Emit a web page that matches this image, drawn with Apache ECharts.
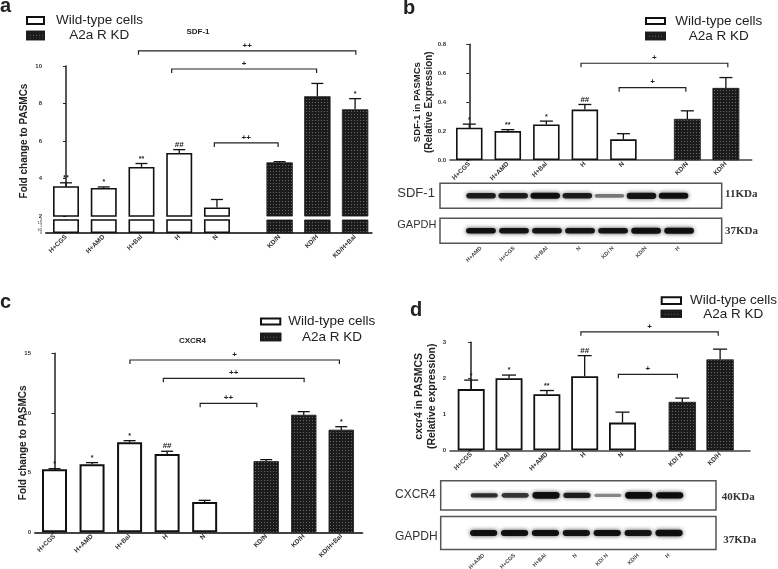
<!DOCTYPE html>
<html><head><meta charset="utf-8">
<script src="https://cdn.jsdelivr.net/npm/echarts@6/dist/echarts.min.js"></script>
<style>html,body{margin:0;padding:0;background:#fff}#c{width:778px;height:569px}</style>
</head><body><div id="c"></div>
<script>
// ---------- Panel a : SDF-1 fold change ----------
const aCats  = ['H+CGS','H+AMD','H+Bal','H','N','KD/N','KD/H','KD/H+Bal'];
const aPos   = [0,1,2,3,4,5.66,6.66,7.66];
const aMean  = [3.59,3.50,4.62,5.36,2.46,4.85,8.38,7.68];
const aSem   = [0.18,0.05,0.18,0.18,0.42,0.05,0.69,0.58];
const aStars = ['**','*','**','##','','','','*'];
const aBrackets = [[1.92,7.68,10.81],[2.80,6.64,9.84],[3.93,5.62,5.90]];
const aBracketLabels = ['++','+','++'];

// ---------- Panel b : SDF-1 relative expression ----------
const bCats  = ['H+CGS','H+AMD','H+Bal','H','N','KD/N','KD/H'];
const bPos   = [0,1,2,3,4,5.66,6.66];
const bMean  = [0.223,0.200,0.246,0.349,0.143,0.283,0.497];
const bSem   = [0.025,0.010,0.023,0.035,0.039,0.057,0.073];
const bStars = ['*','**','*','##','','',''];
const bBrackets = [[2.90,6.71,0.669],[3.89,5.62,0.500]];
const bBracketLabels = ['+','+'];

// ---------- Panel c : CXCR4 fold change ----------
const cCats  = ['H+CGS','H+AMD','H+Bal','H','N','KD/N','KD/H','KD/H+Bal'];
const cPos   = [0,1,2,3,4,5.64,6.64,7.64];
const cMean  = [5.28,5.70,7.54,6.56,2.54,5.95,9.83,8.58];
const cSem   = [0.05,0.14,0.14,0.23,0.14,0.14,0.28,0.27];
const cStars = ['*','*','*','##','','','','*'];
const cBrackets = [[2.01,7.59,14.44],[2.90,6.65,12.90],[3.88,5.39,10.81]];
const cBracketLabels = ['+','++','++'];

// ---------- Panel d : CXCR4 relative expression ----------
const dCats  = ['H+CGS','H+BAl','H+AMD','H','N','KD/ N','KD/H'];
const dPos   = [0,1,2,3,4,5.58,6.58];
const dMean  = [1.70,2.00,1.56,2.06,0.77,1.34,2.52];
const dSem   = [0.25,0.09,0.10,0.57,0.29,0.11,0.29];
const dStars = ['*','*','**','##','','',''];
const dBrackets = [[2.90,6.53,3.29],[3.89,5.45,2.11]];
const dBracketLabels = ['+','+'];

// ---------- Western blots (band intensity / thickness per lane) ----------
const lanes = [0,1,2,3,4,5,6];
const bLaneLabels = ['H+AMD','H+CGS','H+BAl','N','KD/ N','KD/N','H'];
const dLaneLabels = ['H+AMD','H+CGS','H+BAl','N','KD/ N','KD/H','H'];
const bSdfBand    = [0.88,0.88,0.95,0.88,0.50,0.92,0.95];
const bSdfThick   = [1.0,1.0,1.1,1.0,0.7,1.15,1.1];
const bGapdhBand  = [0.95,0.93,0.92,0.92,0.92,0.95,0.95];
const bGapdhThick = [1.0,1.0,1.0,1.0,1.0,1.1,1.1];
const dCxcrBand   = [0.80,0.75,0.95,0.88,0.45,0.98,0.98];
const dCxcrThick  = [0.8,0.9,1.2,0.95,0.6,1.25,1.15];
const dGapdhBand  = [0.95,0.95,0.95,0.93,0.95,0.93,0.95];
const dGapdhThick = [1.0,1.0,1.0,1.0,1.0,1.0,1.05];

const nWT = 5;
const FONT = 'Liberation Sans';
const WT_STYLE = {color:'#ffffff', borderColor:'#111', borderWidth:1.6};
const KD_STYLE = {color:'#1b1b1b', borderColor:'#1b1b1b', borderWidth:0.5,
  decal:{symbol:'rect', symbolSize:0.9, color:'rgba(255,255,255,0.38)', dashArrayX:[1,1.5], dashArrayY:[1,1.5], rotation:0}};

function bars(idx, pos, mean, bw, wtStyle) {
  const wt = [], kd = [];
  pos.forEach((p,i) => (i < nWT ? wt : kd).push([p, mean[i]]));
  return [
    {type:'bar', name:'Wild-type cells', xAxisIndex:idx, yAxisIndex:idx, data:wt, barWidth:bw, barGap:'-100%', itemStyle:wtStyle || WT_STYLE, z:2},
    {type:'bar', name:'A2a R KD', xAxisIndex:idx, yAxisIndex:idx, data:kd, barWidth:bw, barGap:'-100%', itemStyle:KD_STYLE, z:2}
  ];
}
function errors(idx, pos, mean, sem, stars, cap) {
  return {type:'custom', xAxisIndex:idx, yAxisIndex:idx, clip:false, z:4,
    data: pos.map((p,i)=>[p, mean[i], mean[i]+sem[i]]),
    renderItem:(params, api)=>{
      const i = params.dataIndex;
      const p0 = api.coord([api.value(0), api.value(1)]);
      const p1 = api.coord([api.value(0), api.value(2)]);
      const ch = [
        {type:'line', shape:{x1:p0[0],y1:p0[1],x2:p1[0],y2:p1[1]}, style:{stroke:'#111',lineWidth:1.3}},
        {type:'line', shape:{x1:p1[0]-cap,y1:p1[1],x2:p1[0]+cap,y2:p1[1]}, style:{stroke:'#111',lineWidth:1.3}}
      ];
      if (stars[i]) ch.push({type:'text', x:p1[0], y:p1[1]-1,
        style:{text:stars[i], fill:'#222', font:'bold '+(stars[i]==='##'?8:7)+'px '+FONT, align:'center', verticalAlign:'bottom'}});
      return {type:'group', children:ch};
    }};
}
function brackets(idx, data, labels) {
  return {type:'custom', xAxisIndex:idx, yAxisIndex:idx, clip:false, z:4, data:data,
    renderItem:(params, api)=>{
      const a = api.coord([api.value(0), api.value(2)]);
      const b = api.coord([api.value(1), api.value(2)]);
      return {type:'group', children:[
        {type:'polyline', shape:{points:[[a[0],a[1]+4],[a[0],a[1]],[b[0],b[1]],[b[0],b[1]+4]]}, style:{stroke:'#222',lineWidth:1.2,fill:null}},
        {type:'text', x:(a[0]+b[0])/2, y:a[1]-5.5, style:{text:labels[params.dataIndex], fill:'#222', font:'bold 8px '+FONT, align:'center', verticalAlign:'middle'}}
      ]};
    }};
}
function blot(idx, band, thick, baseH, widthFrac) {
  return {type:'custom', xAxisIndex:idx, yAxisIndex:idx, clip:true, z:3,
    data: lanes.map((l,i)=>[l, band[i], thick[i]]),
    renderItem:(params, api)=>{
      const c = api.coord([api.value(0), 0.5]);
      const w = api.size([widthFrac, 0])[0];
      const h = baseH * api.value(2);
      const k = api.value(1);
      return {type:'rect', shape:{x:c[0]-w/2, y:c[1]-h/2, width:w, height:h, r:h/2},
        style:{fill:'rgba(10,10,10,'+k+')', shadowBlur:4, shadowColor:'rgba(0,0,0,'+(k*0.8)+')'}};
    }};
}
function xLabelFmt(pos, cats) {
  return v => { const i = pos.findIndex(p => Math.abs(p - v) < 1e-6); return i >= 0 ? cats[i] : ''; };
}

const lineDark = {lineStyle:{color:'#222', width:1.5}};
const yLab = {fontSize:6, fontWeight:'bold', color:'#333', margin:4};
const yTick = {show:true, length:3, lineStyle:{color:'#222', width:1}};
const xLab = (pos,cats)=>({show:true, rotate:45, fontSize:6.5, fontWeight:'bold', color:'#333', margin:3,
  customValues:pos, formatter:xLabelFmt(pos,cats)});

const blotBox = {show:true, borderColor:'#555', borderWidth:1.5, backgroundColor:'#fff'};
const grids = [
  {left:46, top:66, width:325.7, height:150},      // 0 a top
  {left:46, top:220, width:325.7, height:13},      // 1 a bottom
  {left:450, top:44.3, width:301.7, height:115.7}, // 2 b
  {left:35, top:353.3, width:327.3, height:179},   // 3 c
  {left:450, top:342.3, width:300, height:108},    // 4 d
  Object.assign({left:440, top:183.3, width:281.7, height:25}, blotBox),     // 5 b SDF-1 blot
  Object.assign({left:440, top:218.3, width:281.7, height:25}, blotBox),     // 6 b GAPDH blot
  Object.assign({left:440.7, top:480.7, width:275.3, height:29.3}, blotBox), // 7 d CXCR4 blot
  Object.assign({left:440.7, top:516.5, width:275.3, height:33}, blotBox)    // 8 d GAPDH blot
].map(g => Object.assign({outerBoundsMode:'none', containLabel:false}, g));

const hidden = {axisLine:{show:false}, axisTick:{show:false}, axisLabel:{show:false}, splitLine:{show:false}};
const xAxes = [
  Object.assign({type:'value', gridIndex:0, min:-0.53, max:8.1}, hidden),
  {type:'value', gridIndex:1, min:-0.53, max:8.1, splitLine:{show:false}, axisTick:{show:false},
    axisLine:{lineStyle:{color:'#444', width:2}}, axisLabel:xLab(aPos,aCats)},
  {type:'value', gridIndex:2, min:-0.5, max:7.33, splitLine:{show:false}, axisTick:{show:false},
    axisLine:{lineStyle:{color:'#444', width:1.5}}, axisLabel:xLab(bPos,bCats)},
  {type:'value', gridIndex:3, min:-0.52, max:8.2, splitLine:{show:false}, axisTick:{show:false},
    axisLine:{lineStyle:{color:'#444', width:2}}, axisLabel:xLab(cPos,cCats)},
  {type:'value', gridIndex:4, min:-0.56, max:7.37, splitLine:{show:false}, axisTick:{show:false},
    axisLine:{lineStyle:{color:'#444', width:1.5}}, axisLabel:xLab(dPos,dCats)},
  Object.assign({type:'value', gridIndex:5, min:-1.28, max:7.5}, hidden),
  {type:'value', gridIndex:6, min:-1.24, max:7.29, axisLine:{show:false}, axisTick:{show:false}, splitLine:{show:false},
    axisLabel:{show:true, rotate:45, fontSize:5.5, fontWeight:'bold', color:'#444', margin:4, customValues:lanes, formatter:xLabelFmt(lanes,bLaneLabels)}},
  Object.assign({type:'value', gridIndex:7, min:-1.41, max:7.5}, hidden),
  {type:'value', gridIndex:8, min:-1.39, max:7.52, axisLine:{show:false}, axisTick:{show:false}, splitLine:{show:false},
    axisLabel:{show:true, rotate:45, fontSize:5.5, fontWeight:'bold', color:'#444', margin:5, customValues:lanes, formatter:xLabelFmt(lanes,dLaneLabels)}}
];
const yName = {fontSize:10, fontWeight:'bold', color:'#222', fontFamily:FONT};
const yAxes = [
  {type:'value', gridIndex:0, min:2, max:10, interval:2, splitLine:{show:false}, axisLine:lineDark, axisTick:yTick, axisLabel:yLab,
    name:'Fold change to PASMCs', nameLocation:'middle', nameGap:17, nameMoveOverlap:false, nameTextStyle:yName},
  {type:'value', gridIndex:1, min:0, max:2, interval:0.5, splitLine:{show:false}, axisLine:lineDark,
    axisTick:{show:true, length:3, lineStyle:{color:'#222', width:0.8}}, axisLabel:{fontSize:3, fontWeight:'bold', color:'#444', margin:4}},
  {type:'value', gridIndex:2, min:0, max:0.8, interval:0.2, splitLine:{show:false}, axisLine:lineDark, axisTick:yTick,
    axisLabel:Object.assign({}, yLab, {formatter:v=>v.toFixed(1)}),
    name:'{l1|SDF-1 in PASMCs}\n{l2|(Relative Expression)}', nameLocation:'middle', nameGap:15, nameMoveOverlap:false,
    nameTextStyle:{color:'#222', fontFamily:FONT, rich:{
      l1:{fontSize:9.5, fontWeight:'bold', fontFamily:FONT, lineHeight:12, color:'#222'},
      l2:{fontSize:10, fontWeight:'bold', fontFamily:FONT, lineHeight:12, color:'#222'}}}},
  {type:'value', gridIndex:3, min:0, max:15, interval:5, splitLine:{show:false}, axisLine:lineDark, axisTick:yTick, axisLabel:yLab,
    name:'Fold change to PASMCs', nameLocation:'middle', nameGap:7, nameMoveOverlap:false, nameTextStyle:yName},
  {type:'value', gridIndex:4, min:0, max:3, interval:1, splitLine:{show:false}, axisLine:lineDark, axisTick:yTick, axisLabel:yLab,
    name:'{l1|cxcr4 in PASMCS}\n{l2|(Relative expression)}', nameLocation:'middle', nameGap:11, nameMoveOverlap:false,
    nameTextStyle:{color:'#222', fontFamily:FONT, rich:{
      l1:{fontSize:10.5, fontWeight:'bold', fontFamily:FONT, lineHeight:13, color:'#222'},
      l2:{fontSize:10.5, fontWeight:'bold', fontFamily:FONT, lineHeight:13, color:'#222'}}}},
  Object.assign({type:'value', gridIndex:5, min:0, max:1}, hidden),
  Object.assign({type:'value', gridIndex:6, min:0, max:1}, hidden),
  Object.assign({type:'value', gridIndex:7, min:0, max:1}, hidden),
  Object.assign({type:'value', gridIndex:8, min:0, max:1}, hidden)
];

const series = [].concat(
  bars(0, aPos, aMean, 26), bars(1, aPos, aMean, 26),
  [errors(0, aPos, aMean, aSem, aStars, 6), brackets(0, aBrackets, aBracketLabels)],
  bars(2, bPos, bMean, 26.5),
  [errors(2, bPos, bMean, bSem, bStars, 6.5), brackets(2, bBrackets, bBracketLabels)],
  bars(3, cPos, cMean, 25, {color:'#fff', borderColor:'#111', borderWidth:2}),
  [errors(3, cPos, cMean, cSem, cStars, 6), brackets(3, cBrackets, cBracketLabels)],
  bars(4, dPos, dMean, 27, {color:'#fff', borderColor:'#111', borderWidth:1.8}),
  [errors(4, dPos, dMean, dSem, dStars, 7), brackets(4, dBrackets, dBracketLabels)],
  [blot(5, bSdfBand, bSdfThick, 5.5, 0.92), blot(6, bGapdhBand, bGapdhThick, 5.5, 0.9),
   blot(7, dCxcrBand, dCxcrThick, 5.5, 0.88), blot(8, dGapdhBand, dGapdhThick, 6, 0.88)]
);

function legendItem(name, left, centerY, w, h, textGap) {
  return {left:left, top:centerY-8, padding:0, itemWidth:w, itemHeight:h, selectedMode:false,
    data:[{name:name, icon:'rect'}],
    textStyle:{fontSize:13.5, color:'#222', fontFamily:FONT, lineHeight:16, padding:[0,0,0,textGap-5]}};
}
const legends = [
  legendItem('Wild-type cells', 26, 20.6, 17, 7, 12),
  legendItem('A2a R KD', 26, 35.6, 17, 7.5, 25.3),
  legendItem('Wild-type cells', 645, 21.1, 19, 6, 10.3),
  legendItem('A2a R KD', 645, 36, 19, 6.6, 23.7),
  legendItem('Wild-type cells', 260, 321.5, 19.3, 6, 8),
  legendItem('A2a R KD', 260, 337, 19.3, 6.7, 21.7),
  legendItem('Wild-type cells', 660.7, 300.7, 19.3, 6.7, 9),
  legendItem('A2a R KD', 660.7, 313.8, 19.3, 6, 22.3)
];

function txt(text, x, y, font, opts) {
  return {type:'text', x:x, y:y, style:Object.assign({text:text, font:font, fill:'#222', align:'left', verticalAlign:'middle'}, opts||{})};
}
const graphics = [
  txt('a', 0, 6.8, 'bold 20px '+FONT),
  txt('b', 403, 8.4, 'bold 20px '+FONT),
  txt('c', 0, 302.7, 'bold 20px '+FONT),
  txt('d', 410, 310, 'bold 20px '+FONT),
  txt('SDF-1', 198, 32, 'bold 8px '+FONT, {align:'center'}),
  txt('CXCR4', 192.5, 340.7, 'bold 8px '+FONT, {align:'center'}),
  txt('SDF-1', 397.3, 193.5, '13px '+FONT, {fill:'#333'}),
  txt('GAPDH', 397.3, 224.5, '11px '+FONT, {fill:'#333'}),
  txt('11KDa', 725, 194.5, 'bold 11px Liberation Serif', {fill:'#333'}),
  txt('37KDa', 725, 231, 'bold 11px Liberation Serif', {fill:'#333'}),
  txt('CXCR4', 395, 495, '12px '+FONT, {fill:'#333'}),
  txt('GAPDH', 395, 537, '12px '+FONT, {fill:'#333'}),
  txt('40KDa', 721.7, 496.7, 'bold 11px Liberation Serif', {fill:'#333'}),
  txt('37KDa', 723.3, 540, 'bold 11px Liberation Serif', {fill:'#333'})
];

const chart = echarts.init(document.getElementById('c'), null, {renderer:'canvas'});
chart.setOption({
  backgroundColor:'#fff', animation:false,
  textStyle:{fontFamily:FONT},
  grid:grids, xAxis:xAxes, yAxis:yAxes, series:series, legend:legends, graphic:graphics
});
</script></body></html>
